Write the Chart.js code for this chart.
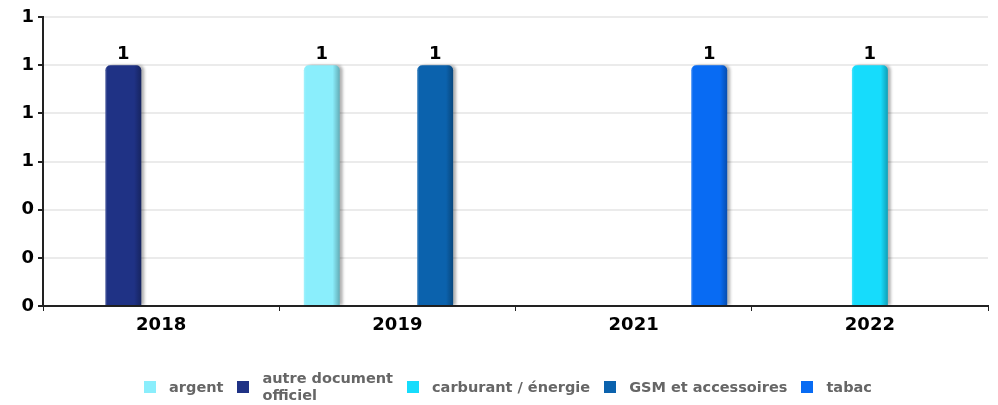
<!DOCTYPE html>
<html>
<head>
<meta charset="utf-8">
<title>Catégories par année</title>
<script src="https://cdn.jsdelivr.net/npm/chart.js@4.4.0/dist/chart.umd.min.js"></script>
<style>
  html, body { margin: 0; padding: 0; background: #fff; }
  #wrap { position: relative; width: 998px; height: 405px; }
  #legend {
    position: absolute; left: 18px; right: 0; top: 370px;
    display: flex; justify-content: center; align-items: center;
    font: bold 14.5px "DejaVu Sans", sans-serif; color: #666;
  }
  .item { display: flex; align-items: center; margin: 0 7px; }
  .box { width: 12px; height: 12px; margin-right: 13px; flex: none; }
  .txt { line-height: 17px; }
</style>
</head>
<body>
<div id="wrap">
  <canvas id="myChart" width="998" height="405"></canvas>
  <div id="legend"></div>
</div>
<script>
// years on the x axis
var years = ['2018', '2019', '2021', '2022'];

// one array per category, null = nothing that year
var seriesNames = ['argent', 'autre document officiel', 'carburant / énergie', 'GSM et accessoires', 'tabac'];
var argent = [null, 1, null, null];
var autreDocument = [1, null, null, null];
var carburant = [null, null, null, 1];
var gsm = [null, 1, null, null];
var tabac = [null, null, 1, null];
var seriesValues = [argent, autreDocument, carburant, gsm, tabac];
var seriesColors = ['#8aeefc', '#1f3285', '#16dcfc', '#0b62ad', '#086bf3'];

var yMax = 1.2;
var yStep = 0.2;

// drop shadow + edge shading on the bars, and the value above each one
var barStyle = {
    id: 'barStyle',
    beforeDatasetsDraw: function (chart) {
        var ctx = chart.ctx;
        ctx.save();
        ctx.shadowColor = 'rgba(0,0,0,0.3)';
        ctx.shadowOffsetX = 3;
        ctx.shadowOffsetY = 0;
        ctx.shadowBlur = 3;
    },
    afterDatasetsDraw: function (chart) {
        var ctx = chart.ctx;
        ctx.restore();
        chart.data.datasets.forEach(function (ds, i) {
            var meta = chart.getDatasetMeta(i);
            meta.data.forEach(function (bar, j) {
                var v = ds.data[j];
                if (v === null || v === undefined) return;
                var left = bar.x - bar.width / 2;
                var g = ctx.createLinearGradient(left, 0, left + bar.width, 0);
                g.addColorStop(0, 'rgba(255,255,255,0.22)');
                g.addColorStop(0.06, 'rgba(255,255,255,0)');
                g.addColorStop(0.8, 'rgba(0,0,0,0)');
                g.addColorStop(1, 'rgba(0,0,0,0.28)');
                ctx.save();
                ctx.fillStyle = g;
                ctx.beginPath();
                ctx.roundRect(left, bar.y, bar.width, bar.base - bar.y, [5, 5, 0, 0]);
                ctx.fill();
                ctx.restore();

                ctx.save();
                ctx.fillStyle = '#000';
                ctx.font = 'bold 18px "DejaVu Sans"';
                ctx.textAlign = 'center';
                ctx.textBaseline = 'bottom';
                ctx.fillText(Math.round(v), bar.x, bar.y - 2);
                ctx.restore();
            });
        });
    }
};

var datasets = seriesNames.map(function (name, i) {
    return {
        label: name,
        data: seriesValues[i],
        backgroundColor: seriesColors[i],
        borderWidth: 0,
        borderRadius: 5,
        borderSkipped: 'start',
        categoryPercentage: 0.8,
        barPercentage: 0.95
    };
});

var masspopChart = new Chart('myChart', {
    type: 'bar',
    data: { labels: years, datasets: datasets },
    options: {
        responsive: false,
        devicePixelRatio: 1,
        animation: false,
        layout: { padding: { top: 17, right: 10, left: 0, bottom: 0 } },
        plugins: {
            legend: { display: false },
            tooltip: { enabled: false }
        },
        scales: {
            x: {
                offset: true,
                afterFit: function (scale) { scale.height = 99; },
                grid: {
                    offset: true,
                    drawOnChartArea: false,
                    tickColor: '#222',
                    tickLength: 5
                },
                border: { display: true, color: '#222', width: 2 },
                ticks: {
                    color: '#000',
                    padding: 4,
                    font: { family: 'DejaVu Sans', weight: 'bold', size: 18 }
                }
            },
            y: {
                min: 0,
                max: yMax,
                afterFit: function (scale) { scale.width = 43; },
                grid: {
                    color: function (c) { return c.tick && c.tick.value === 0 ? 'rgba(0,0,0,0)' : '#ebebeb'; },
                    lineWidth: 2,
                    tickColor: '#222',
                    tickLength: 5
                },
                border: { display: true, color: '#222', width: 2 },
                ticks: {
                    stepSize: yStep,
                    color: '#000',
                    padding: 4,
                    font: { family: 'DejaVu Sans', weight: 'bold', size: 18 },
                    callback: function (v) { return Math.round(v); }
                }
            }
        }
    },
    plugins: [barStyle]
});

// html legend, so the long label can wrap onto two lines
var legendEl = document.getElementById('legend');
seriesNames.forEach(function (name, i) {
    var item = document.createElement('div');
    item.className = 'item';
    var box = document.createElement('span');
    box.className = 'box';
    box.style.background = seriesColors[i];
    var txt = document.createElement('span');
    txt.className = 'txt';
    txt.innerHTML = name === 'autre document officiel' ? 'autre document<br>officiel' : name;
    item.appendChild(box);
    item.appendChild(txt);
    legendEl.appendChild(item);
});
</script>
</body>
</html>
